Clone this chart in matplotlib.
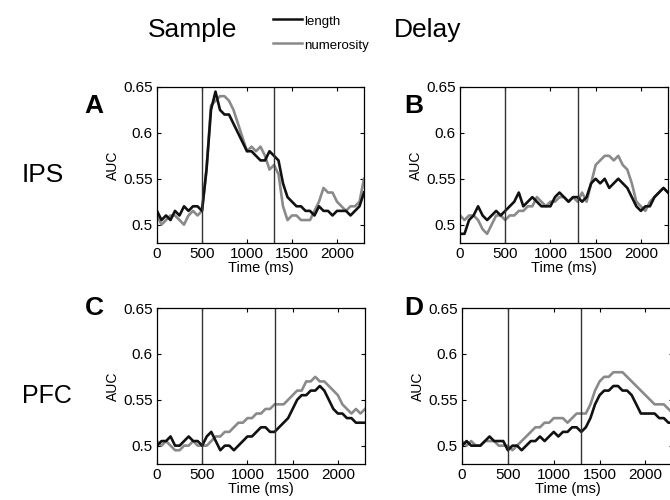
import numpy as np
import matplotlib
matplotlib.use("Agg")
import matplotlib.pyplot as plt
from matplotlib.lines import Line2D

plt.rcParams['font.family'] = ['Liberation Sans', 'DejaVu Sans']

# Time axis (ms), one sample every 50 ms
time_ms = np.arange(0, 2301, 50)

# IPS - sample period (panel A)
ips_sample_length = [0.515, 0.505, 0.51, 0.505, 0.515, 0.51, 0.52, 0.515, 0.52, 0.52,
                     0.515, 0.56, 0.625, 0.645, 0.625, 0.62, 0.62, 0.61, 0.60, 0.59,
                     0.58, 0.58, 0.575, 0.57, 0.57, 0.58, 0.575, 0.57, 0.545, 0.53,
                     0.525, 0.52, 0.52, 0.515, 0.515, 0.51, 0.52, 0.515, 0.515, 0.51,
                     0.515, 0.515, 0.515, 0.51, 0.515, 0.52, 0.535]
ips_sample_numerosity = [0.51, 0.50, 0.505, 0.51, 0.51, 0.505, 0.50, 0.51, 0.515, 0.51,
                         0.515, 0.56, 0.63, 0.635, 0.64, 0.64, 0.635, 0.625, 0.61, 0.595,
                         0.58, 0.585, 0.58, 0.585, 0.575, 0.56, 0.565, 0.555, 0.52, 0.505,
                         0.51, 0.51, 0.505, 0.505, 0.505, 0.515, 0.525, 0.54, 0.535, 0.535,
                         0.525, 0.52, 0.515, 0.52, 0.52, 0.525, 0.55]

# IPS - delay period (panel B)
ips_delay_length = [0.49, 0.49, 0.505, 0.51, 0.52, 0.51, 0.505, 0.51, 0.515, 0.51,
                    0.515, 0.52, 0.525, 0.535, 0.52, 0.525, 0.53, 0.525, 0.52, 0.52,
                    0.52, 0.53, 0.535, 0.53, 0.525, 0.53, 0.53, 0.525, 0.53, 0.545,
                    0.55, 0.545, 0.55, 0.54, 0.545, 0.55, 0.545, 0.54, 0.53, 0.52,
                    0.515, 0.52, 0.52, 0.53, 0.535, 0.54, 0.535]
ips_delay_numerosity = [0.51, 0.505, 0.51, 0.51, 0.505, 0.495, 0.49, 0.50, 0.51, 0.51,
                        0.505, 0.51, 0.51, 0.515, 0.515, 0.52, 0.52, 0.53, 0.525, 0.52,
                        0.525, 0.525, 0.53, 0.53, 0.525, 0.53, 0.525, 0.535, 0.525, 0.545,
                        0.565, 0.57, 0.575, 0.575, 0.57, 0.575, 0.565, 0.56, 0.545, 0.525,
                        0.52, 0.515, 0.525, 0.53, 0.535, 0.54, 0.535]

# PFC - sample period (panel C)
pfc_sample_length = [0.50, 0.505, 0.505, 0.51, 0.50, 0.50, 0.505, 0.51, 0.505, 0.505,
                     0.50, 0.51, 0.515, 0.505, 0.495, 0.50, 0.50, 0.495, 0.50, 0.505,
                     0.51, 0.51, 0.515, 0.52, 0.52, 0.515, 0.515, 0.52, 0.525, 0.53,
                     0.54, 0.55, 0.555, 0.555, 0.56, 0.56, 0.565, 0.56, 0.55, 0.54,
                     0.535, 0.535, 0.53, 0.53, 0.525, 0.525, 0.525]
pfc_sample_numerosity = [0.505, 0.50, 0.505, 0.50, 0.495, 0.495, 0.50, 0.50, 0.505, 0.50,
                         0.50, 0.50, 0.505, 0.51, 0.51, 0.515, 0.515, 0.52, 0.525, 0.525,
                         0.53, 0.53, 0.535, 0.535, 0.54, 0.54, 0.545, 0.545, 0.545, 0.55,
                         0.555, 0.56, 0.56, 0.57, 0.57, 0.575, 0.57, 0.57, 0.565, 0.56,
                         0.555, 0.545, 0.54, 0.535, 0.54, 0.535, 0.54]

# PFC - delay period (panel D)
pfc_delay_length = [0.50, 0.505, 0.50, 0.50, 0.50, 0.505, 0.51, 0.505, 0.505, 0.505,
                    0.495, 0.50, 0.50, 0.495, 0.50, 0.505, 0.505, 0.51, 0.505, 0.51,
                    0.515, 0.51, 0.515, 0.515, 0.52, 0.52, 0.515, 0.52, 0.53, 0.545,
                    0.555, 0.56, 0.56, 0.565, 0.565, 0.56, 0.56, 0.555, 0.545, 0.535,
                    0.535, 0.535, 0.535, 0.53, 0.53, 0.525, 0.525]
pfc_delay_numerosity = [0.505, 0.50, 0.505, 0.50, 0.50, 0.505, 0.505, 0.505, 0.50, 0.50,
                        0.50, 0.495, 0.50, 0.505, 0.51, 0.515, 0.52, 0.52, 0.525, 0.525,
                        0.53, 0.53, 0.53, 0.525, 0.53, 0.535, 0.535, 0.535, 0.545, 0.56,
                        0.57, 0.575, 0.575, 0.58, 0.58, 0.58, 0.575, 0.57, 0.565, 0.56,
                        0.555, 0.55, 0.545, 0.545, 0.545, 0.54, 0.535]

# Event markers (ms)
events = [500, 1300]

xticks = [0, 500, 1000, 1500, 2000]
yticks = [0.5, 0.55, 0.6, 0.65]

BLACK = '#111111'
GRAY = '#8a8a8a'

W, H = 670, 500
fig = plt.figure(figsize=(W / 100, H / 100), dpi=100)


def px_axes(left, top, width, height):
    """Axes placed in pixel coordinates measured from the top-left corner."""
    return fig.add_axes([left / W, (H - top - height) / H, width / W, height / H])


def panel(ax, length, numerosity):
    ax.plot(time_ms, numerosity, color=GRAY, lw=1.9)
    ax.plot(time_ms, length, color=BLACK, lw=1.9)
    for t in events:
        ax.axvline(t, color='#333333', lw=1.0)
    ax.set_xlim(0, 2300)
    ax.set_ylim(0.48, 0.65)
    ax.set_xticks(xticks)
    ax.set_yticks(yticks)
    ax.set_yticklabels(['0.5', '0.55', '0.6', '0.65'])
    ax.tick_params(direction='in', top=True, right=True, length=3,
                   labelsize=11, pad=3, width=0.8)
    ax.set_xlabel('Time (ms)', fontsize=10.5, labelpad=0)
    ax.set_ylabel('AUC', fontsize=10, labelpad=2)
    for s in ax.spines.values():
        s.set_linewidth(0.9)


# Right column is cut by the figure edge, as in the source
axA = px_axes(157, 87, 207, 156)
axB = px_axes(460, 87, 208, 156)
axC = px_axes(157, 308, 208, 156)
axD = px_axes(462, 308, 211, 156)

panel(axA, ips_sample_length, ips_sample_numerosity)
panel(axB, ips_delay_length, ips_delay_numerosity)
panel(axC, pfc_sample_length, pfc_sample_numerosity)
panel(axD, pfc_delay_length, pfc_delay_numerosity)

# Panel letters
for letter, x, y in [('A', 84, 113), ('B', 404, 113), ('C', 85, 315), ('D', 404, 315)]:
    fig.text(x / W, 1 - y / H, letter, fontsize=19, fontweight='bold', va='baseline')

# Column and row headers
fig.text(193 / W, 1 - 37 / H, 'Sample', fontsize=19, ha='center', va='baseline')
fig.text(428 / W, 1 - 37 / H, 'Delay', fontsize=19, ha='center', va='baseline')
fig.text(22 / W, 1 - 182 / H, 'IPS', fontsize=19, va='baseline')
fig.text(22 / W, 1 - 403 / H, 'PFC', fontsize=18, va='baseline')

# Legend drawn by hand between the headers
for label, color, y in [('length', BLACK, 19), ('numerosity', GRAY, 43)]:
    fig.add_artist(Line2D([273 / W, 302 / W], [1 - y / H, 1 - y / H], color=color, lw=1.8))
    fig.text(304 / W, 1 - (y + 3) / H, label, fontsize=9.5, va='center')

fig.savefig('out.png', dpi=100)
